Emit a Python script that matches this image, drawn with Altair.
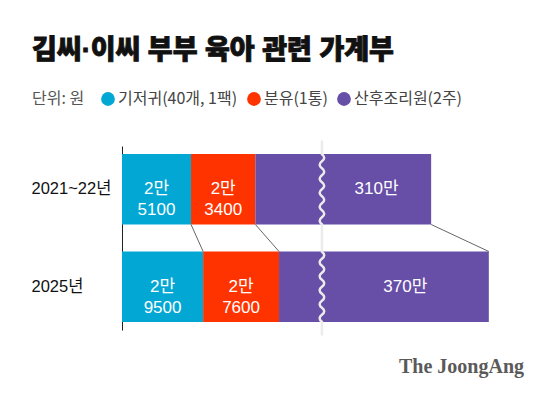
import altair as alt
import pandas as pd

# ---- data ----
years = ["2021~22년", "2025년"]
categories = ["기저귀(40개, 1팩)", "분유(1통)", "산후조리원(2주)"]
colors = ["#03A7D3", "#FF3300", "#674EA7"]
diaper = [25100, 29500]          # 원
formula = [23400, 27600]         # 원
postpartum = [3100000, 3700000]  # 원

# axis break: the postpartum segment is drawn compressed after a break
BREAK_SCALE = 48.5      # compression factor for the big segment
BREAK_AT = 72700        # display position of the break (in 원 units of the main scale)


def man_label(v):
    m, r = divmod(v, 10000)
    return f"{m}만" if r == 0 else f"{m}만\n{r}"


rows = []
for i, y in enumerate(years):
    vals = [diaper[i], formula[i], postpartum[i] / BREAK_SCALE]
    raw = [diaper[i], formula[i], postpartum[i]]
    start = 0.0
    for c, v, rv in zip(categories, vals, raw):
        end = start + v
        if c == categories[2]:
            lx = (BREAK_AT + end) / 2
        else:
            lx = (start + end) / 2
        rows.append(dict(year=y, cat=c, start=start, end=end, lx=lx, label=man_label(rv)))
        start = end
df = pd.DataFrame(rows)

conn = []
for c in categories:
    e1 = df[(df.year == years[0]) & (df.cat == c)].end.iloc[0]
    e2 = df[(df.year == years[1]) & (df.cat == c)].end.iloc[0]
    conn.append(dict(cat=c, x1=e1, x2=e2, y1=years[0], y2=years[1]))
conn_df = pd.DataFrame(conn)

brk_df = pd.DataFrame(dict(year=years, brk=[BREAK_AT] * len(years)))

# wavy break shape (unit square -1..1), straight tails + wave over the band
def wave_path(n=5, amp=0.047, edge=0.72):
    s = f"M0,-1L0,{-edge:.3f}"
    h = (2 * edge) / (2 * n)
    y0 = -edge
    for k in range(2 * n):
        cx = 2 * amp if k % 2 == 0 else -2 * amp
        s += f"Q{cx:.3f},{y0 + h / 2:.3f} 0,{y0 + h:.3f}"
        y0 += h
    s += "L0,1"
    return s

FONT = "Liberation Sans, Noto Sans CJK KR"

xscale = alt.Scale(domain=[0, 100000], range=[0, 275])
yscale = alt.Scale(domain=years, range=[138, 322], paddingInner=0.277, paddingOuter=0.082)

bars = alt.Chart(df).mark_bar(cornerRadius=0, stroke=None).encode(
    x=alt.X("start:Q", scale=xscale, axis=None),
    x2="end:Q",
    y=alt.Y("year:N", sort=years, scale=yscale, title=None,
            axis=alt.Axis(orient="left", domain=True, domainColor="#222", domainWidth=1,
                          ticks=False, grid=False, labelAlign="left", labelPadding=91,
                          labelFontSize=16.5, labelColor="#111", labelFont=FONT,
                          labelBaseline="middle")),
    color=alt.Color("cat:N", scale=alt.Scale(domain=categories, range=colors),
                    legend=alt.Legend(orient="none", legendX=-90, legendY=83,
                                      direction="horizontal", title="단위: 원",
                                      titleOrient="left", titleFontSize=16,
                                      titleFontWeight="normal", titleColor="#555",
                                      titleFont="Noto Sans CJK KR", titlePadding=15,
                                      titleBaseline="middle",
                                      labelFontSize=16, labelColor="#444",
                                      labelFont="Noto Sans CJK KR",
                                      symbolType="circle", symbolSize=190,
                                      symbolStrokeWidth=0, symbolOpacity=1,
                                      columnPadding=8, labelOffset=2)),
)

connectors = alt.Chart(conn_df).mark_rule(color="#666", strokeWidth=1).encode(
    x=alt.X("x1:Q", scale=xscale),
    x2="x2:Q",
    y=alt.Y("y1:N", scale=yscale, bandPosition=1),
    y2=alt.Y2("y2:N", bandPosition=0),
)

brk = alt.Chart(brk_df).mark_point(shape=wave_path(), filled=False, stroke="#EBEBEB",
                                   strokeWidth=2.5, size=97.5 ** 2, opacity=1).encode(
    x=alt.X("brk:Q", scale=xscale),
    y=alt.Y("year:N", scale=yscale),
)

labels = alt.Chart(df).mark_text(color="white", fontSize=17, font=FONT, lineBreak="\n",
                                 lineHeight=21, baseline="middle", align="center").encode(
    x=alt.X("lx:Q", scale=xscale),
    y=alt.Y("year:N", scale=yscale),
    text="label:N",
)

title = alt.Chart(pd.DataFrame({"t": ["김씨·이씨 부부 육아 관련 가계부"]})).mark_text(
    font="Liberation Sans, Noto Sans CJK KR", fontWeight=900, fontSize=27, color="#111",
    stroke="#111", strokeWidth=0.9,
    align="left", baseline="middle").encode(x=alt.value(-90), y=alt.value(43), text="t:N")

logo = alt.Chart(pd.DataFrame({"t": ["The JoongAng"]})).mark_text(
    font="Liberation Serif", fontWeight="bold", fontSize=20, color="#5a5a5a",
    align="right", baseline="middle").encode(x=alt.value(402), y=alt.value(359), text="t:N")

chart = alt.layer(bars, connectors, brk, labels, title, logo).properties(
    width=425, height=378,
    autosize=alt.AutoSizeParams(type="none"),
    padding={"left": 114, "top": 0, "right": 0, "bottom": 0},
    background="white",
).configure_view(stroke=None)

chart.save("out.html", embed_options={"renderer": "svg", "actions": False})
